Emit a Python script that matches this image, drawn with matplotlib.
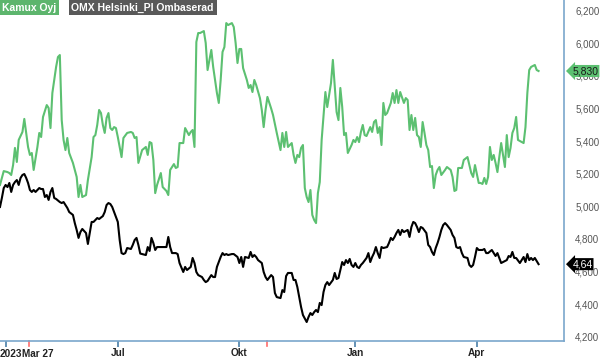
import numpy as np
import matplotlib
matplotlib.use("Agg")
import matplotlib.pyplot as plt

plt.rcParams['font.family'] = ['Liberation Sans', 'DejaVu Sans']

# trading sessions since start (end of March 2023) and closes
kamux_t = [0, 2, 4, 5, 6, 7, 8, 9, 10, 12, 13, 14, 15, 16, 17, 18, 20, 21, 22, 23,
           25, 26, 27, 28, 29, 30, 31, 32, 33, 34, 35, 36, 37, 39, 41, 42, 43, 44, 46, 47,
           49, 50, 51, 52, 53, 54, 55, 56, 57, 58, 59, 60, 61, 62, 63, 64, 65, 66, 68, 70,
           71, 72, 73, 74, 76, 78, 79, 80, 81, 82, 83, 84, 86, 87, 89, 90, 91, 93, 94, 95,
           96, 98, 99, 101, 102, 103, 104, 105, 106, 107, 109, 110, 111, 112, 113, 114, 116, 117, 118, 119,
           120, 121, 122, 124, 125, 126, 127, 128, 129, 130, 132, 133, 134, 135, 136, 137, 139, 140, 141, 142,
           143, 145, 146, 148, 150, 151, 152, 153, 154, 156, 157, 158, 159, 160, 161, 162, 163, 164, 165, 166,
           167, 168, 169, 170, 171, 172, 174, 175, 176, 177, 178, 180, 181, 182, 183, 184, 185, 186, 188, 189,
           190, 191, 192, 193, 194, 195, 196, 198, 199, 200, 201, 202, 203, 204, 205, 206, 207, 209, 210, 211,
           212, 213, 214, 216, 217, 218, 219, 220, 221, 222, 223, 224, 225, 226, 227, 228, 229, 230, 231, 232,
           233, 234, 235, 236, 238, 239, 241, 242, 243, 244, 245, 247, 248, 250, 252, 253, 254, 256, 257, 258,
           259, 260, 261, 262, 263, 264, 265, 266, 267, 268, 270, 271, 272, 273, 274, 275, 276, 277, 279, 280,
           281, 282, 283, 284, 286, 287, 288]
kamux = [5131, 5216, 5210, 5204, 5192, 5253, 5358, 5272, 5407, 5456, 5536, 5450, 5364, 5315, 5327, 5223, 5364, 5450, 5425, 5548,
         5621, 5603, 5480, 5695, 5775, 5855, 5916, 5928, 5529, 5407, 5345, 5419, 5327, 5266, 5180, 5057, 5131, 5057, 5069, 5161,
         5302, 5425, 5437, 5499, 5591, 5572, 5499, 5450, 5542, 5572, 5480, 5468, 5486, 5480, 5425, 5364, 5302, 5419, 5450, 5456,
         5450, 5419, 5425, 5266, 5345, 5364, 5315, 5394, 5388, 5284, 5081, 5131, 5204, 5118, 5094, 5069, 5223, 5259, 5235, 5241,
         5388, 5388, 5480, 5437, 5456, 5468, 5364, 6008, 6063, 6063, 6075, 6002, 5836, 5898, 5959, 5855, 5695, 5634, 5775, 5947,
         5977, 6124, 6112, 6124, 6100, 6002, 5879, 5965, 5965, 5848, 5775, 5726, 5744, 5701, 5775, 5744, 5664, 5591, 5486, 5591,
         5671, 5600, 5560, 5450, 5345, 5450, 5364, 5456, 5364, 5388, 5315, 5266, 5315, 5302, 5358, 5376, 5112, 5057, 5026, 5100,
         4947, 4916, 4897, 5081, 5149, 5407, 5701, 5609, 5683, 5756, 5898, 5578, 5529, 5726, 5609, 5437, 5450, 5327, 5376, 5407,
         5394, 5425, 5394, 5456, 5499, 5437, 5431, 5486, 5456, 5517, 5529, 5450, 5486, 5376, 5634, 5560, 5572, 5634, 5695, 5634,
         5713, 5634, 5701, 5634, 5664, 5652, 5468, 5560, 5468, 5542, 5437, 5425, 5364, 5517, 5450, 5376, 5345, 5241, 5247, 5112,
         5192, 5223, 5241, 5192, 5223, 5241, 5223, 5180, 5094, 5100, 5235, 5235, 5284, 5302, 5204, 5180, 5253, 5143, 5143, 5137,
         5174, 5137, 5180, 5364, 5284, 5315, 5266, 5210, 5302, 5388, 5241, 5437, 5302, 5358, 5450, 5480, 5548, 5407, 5394, 5388,
         5486, 5695, 5836, 5855, 5867, 5836, 5830]

omx_t = [0, 1, 2, 3, 4, 5, 6, 7, 8, 9, 10, 11, 12, 13, 14, 15, 16, 17, 18, 19,
         21, 22, 23, 24, 25, 26, 27, 28, 29, 30, 32, 33, 34, 36, 37, 39, 40, 41, 42, 43,
         44, 46, 47, 48, 49, 50, 52, 53, 55, 56, 57, 58, 59, 60, 61, 63, 64, 65, 66, 67,
         68, 70, 71, 72, 73, 74, 75, 76, 78, 79, 80, 81, 82, 83, 84, 86, 87, 89, 90, 91,
         92, 94, 95, 96, 98, 99, 100, 102, 103, 104, 105, 106, 108, 109, 110, 111, 113, 114, 115, 116,
         118, 119, 120, 121, 122, 124, 125, 127, 128, 129, 130, 131, 133, 134, 135, 136, 137, 138, 140, 141,
         142, 143, 145, 146, 147, 148, 150, 151, 152, 153, 154, 156, 157, 158, 159, 160, 161, 162, 164, 165,
         166, 167, 168, 169, 170, 171, 172, 173, 174, 175, 176, 178, 179, 180, 181, 182, 183, 184, 185, 186,
         187, 188, 189, 190, 191, 192, 193, 194, 196, 197, 198, 199, 200, 201, 202, 203, 204, 205, 207, 208,
         209, 210, 211, 212, 213, 214, 215, 216, 218, 219, 220, 221, 222, 223, 224, 225, 226, 228, 229, 230,
         231, 232, 233, 234, 235, 236, 237, 238, 239, 241, 242, 243, 244, 245, 246, 247, 248, 250, 251, 252,
         253, 254, 255, 256, 258, 259, 260, 261, 263, 264, 265, 266, 267, 268, 269, 271, 272, 273, 274, 275,
         276, 278, 279, 280, 281, 282, 283, 284, 285, 286, 288]
omx = [4996, 5051, 5112, 5131, 5118, 5143, 5088, 5131, 5149, 5161, 5131, 5174, 5192, 5198, 5174, 5143, 5100, 5088, 5100, 5088,
       5112, 5106, 5106, 5057, 5069, 5039, 5088, 5112, 5051, 5045, 5026, 5020, 5026, 4990, 4965, 4947, 4897, 4855, 4806, 4842,
       4861, 4836, 4769, 4836, 4904, 4904, 4928, 4922, 4940, 4965, 5008, 5020, 5014, 4996, 4965, 4904, 4793, 4713, 4707, 4713,
       4744, 4738, 4763, 4793, 4806, 4763, 4710, 4707, 4701, 4750, 4726, 4806, 4775, 4732, 4750, 4750, 4750, 4750, 4812, 4750,
       4713, 4713, 4707, 4652, 4597, 4628, 4609, 4628, 4683, 4652, 4597, 4578, 4566, 4548, 4535, 4542, 4578, 4566, 4566, 4628,
       4689, 4713, 4701, 4707, 4701, 4707, 4707, 4689, 4652, 4689, 4628, 4689, 4683, 4720, 4689, 4701, 4689, 4670, 4652, 4597,
       4566, 4548, 4578, 4566, 4468, 4443, 4437, 4486, 4474, 4572, 4591, 4591, 4548, 4548, 4505, 4443, 4382, 4333, 4290, 4321,
       4345, 4333, 4351, 4364, 4351, 4407, 4394, 4474, 4517, 4535, 4517, 4548, 4591, 4554, 4560, 4609, 4658, 4640, 4670, 4652,
       4677, 4640, 4628, 4652, 4628, 4621, 4640, 4652, 4683, 4713, 4658, 4689, 4713, 4750, 4713, 4683, 4750, 4744, 4750, 4775,
       4806, 4793, 4812, 4836, 4855, 4824, 4855, 4842, 4855, 4812, 4873, 4904, 4897, 4873, 4842, 4873, 4867, 4836, 4763, 4750,
       4720, 4701, 4744, 4775, 4812, 4855, 4885, 4897, 4885, 4855, 4824, 4806, 4750, 4744, 4750, 4713, 4689, 4683, 4640, 4628,
       4640, 4689, 4744, 4732, 4732, 4738, 4713, 4713, 4732, 4713, 4695, 4713, 4683, 4652, 4658, 4670, 4695, 4689, 4720, 4683,
       4683, 4652, 4670, 4689, 4658, 4707, 4670, 4683, 4670, 4683, 4645]

tick_pos = [3, 63, 128, 190, 255]
tick_labels = ["", "Jul", "Okt", "Jan", "Apr"]
year_label = "2023"
event_pos = [15.5, 143]
event_label = "Mar 27"
y_ticks = [4200, 4400, 4600, 4800, 5000, 5200, 5400, 5600, 5800, 6000, 6200]

green = "#5cc071"
spine_c = "#7aa7cc"
lab_c = "#222222"
fs_x = 7.2

fig = plt.figure(figsize=(6, 3.59), dpi=100)
ax = fig.add_axes([0.0, 18 / 359, 564 / 600, 341 / 359])

ax.plot(kamux_t, kamux, color=green, lw=1.5)
ax.plot(omx_t, omx, color="black", lw=1.5)

ax.set_xlim(0, 301.6)
ax.set_ylim(4173.6, 6265.6)

for s in ["left", "top"]:
    ax.spines[s].set_visible(False)
for s in ["right", "bottom"]:
    ax.spines[s].set_color(spine_c)
    ax.spines[s].set_linewidth(1.2)

ax.yaxis.tick_right()
ax.set_yticks(y_ticks)
ax.set_yticklabels([f"{v:,}" for v in y_ticks])
ax.tick_params(axis="y", length=0, pad=8, labelsize=7, labelcolor="#555555")

ax.set_xticks(tick_pos)
ax.set_xticklabels(tick_labels)
ax.tick_params(axis="x", length=4, width=1.2, color="#4a7fa8", pad=1,
               labelsize=fs_x, labelcolor=lab_c)
for lab in ax.get_xticklabels():
    lab.set_fontweight("bold")

xt = ax.get_xaxis_transform()
ax.text(0.0, -0.022, year_label, transform=ax.transAxes, ha="left", va="top",
        fontsize=fs_x, fontweight="bold", color=lab_c)
for p in event_pos:
    ax.plot([p, p], [0, -0.015], transform=xt, color="#ff6b6b", lw=1.2, clip_on=False)
ax.text(event_pos[0] - 3.6, -0.022, event_label, transform=xt,
        ha="left", va="top", fontsize=fs_x, fontweight="bold", color=lab_c)

# legend tags
fig.text(0.004, 0.993, "Kamux Oyj", color="white", fontsize=7.5, fontweight="bold",
         va="top", ha="left",
         bbox=dict(boxstyle="square,pad=0.25", fc="#5db56d", ec="none"))
fig.text(0.119, 0.993, "OMX Helsinki_PI Ombaserad", color="white", fontsize=7.5,
         fontweight="bold", va="top", ha="left",
         bbox=dict(boxstyle="square,pad=0.25", fc="#595959", ec="none"))

# last value badges
ax.annotate(f"{kamux[-1]:,}", xy=(1.0, kamux[-1]), xycoords=("axes fraction", "data"),
            xytext=(6, 0), textcoords="offset points", ha="left", va="center",
            fontsize=7.5, color="#1a1a1a", annotation_clip=False,
            bbox=dict(boxstyle="larrow,pad=0.1", fc=green, ec="none"))
ax.annotate("4,64", xy=(1.0, omx[-1]), xycoords=("axes fraction", "data"),
            xytext=(6, 0), textcoords="offset points", ha="left", va="center",
            fontsize=7.5, color="white", annotation_clip=False,
            bbox=dict(boxstyle="larrow,pad=0.1", fc="black", ec="none"))

fig.savefig("out.png", dpi=100)
